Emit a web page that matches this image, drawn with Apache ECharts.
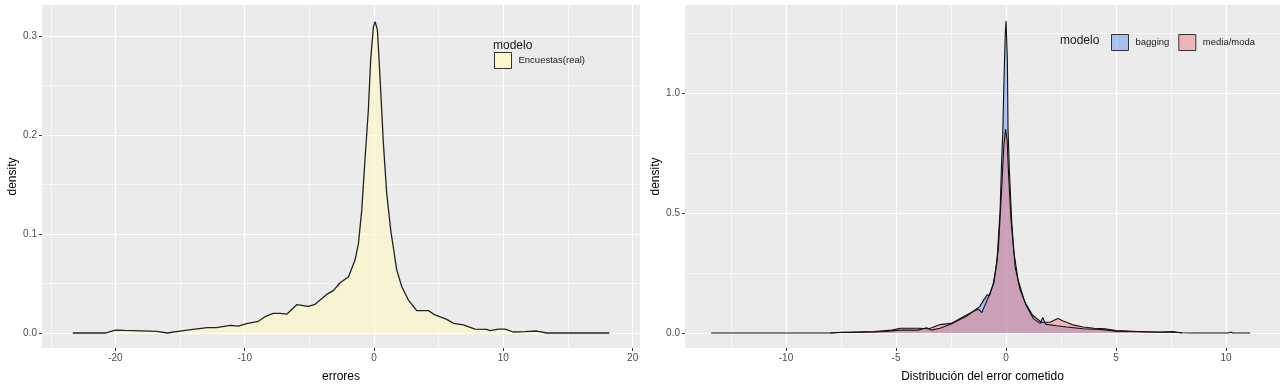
<!DOCTYPE html>
<html><head><meta charset="utf-8">
<script src="https://cdn.jsdelivr.net/npm/echarts@6/dist/echarts.min.js"></script>
<style>html,body{margin:0;padding:0;background:#fff}#c{width:1280px;height:388px}</style>
</head><body><div id="c"></div>
<script>
// ---- Left panel: Encuestas(real)
const encX = [-23.3,-20.8,-20.0,-19.3,-16.8,-16.0,-15.0,-14.0,-12.9,-12.2,-11.1,-10.5,-9.85,-8.95,-8.43,-7.8,-7.27,-6.75,-5.98,-5.6,-5.08,-4.56,-3.66,-3.15,-2.63,-1.98,-1.47,-1.21,-0.95,-0.70,-0.44,-0.26,-0.05,0.08,0.26,0.46,0.72,0.98,1.29,1.75,2.14,2.66,3.3,4.2,4.72,5.62,6.14,6.91,7.81,8.71,8.97,9.62,10.13,10.77,11.68,12.58,13.35,18.2];
const encY = [0,0,0.003,0.0027,0.0017,0,0.002,0.0037,0.0054,0.0054,0.0077,0.007,0.0094,0.0118,0.0165,0.0199,0.0199,0.019,0.0286,0.028,0.027,0.029,0.039,0.0428,0.0508,0.0566,0.0737,0.09,0.124,0.175,0.225,0.276,0.309,0.3145,0.306,0.259,0.192,0.141,0.104,0.064,0.047,0.0333,0.0226,0.0226,0.0182,0.0138,0.0098,0.0081,0.004,0.0037,0.0024,0.004,0.004,0.001,0.0013,0.002,0,0];
// ---- Right panel: bagging
const bagX = [-13.4,-8.0,-7.5,-7.0,-6.0,-5.5,-4.8,-4.0,-3.6,-3.4,-3.0,-2.55,-1.8,-1.2,-1.03,-0.85,-0.75,-0.58,-0.42,-0.27,-0.2,-0.15,-0.09,-0.03,0.0,0.06,0.09,0.15,0.26,0.41,0.64,0.94,1.24,1.55,1.67,1.79,2.3,2.76,3.5,4.27,5.0,5.6,6.5,7.5,8.0,8.5,10.1,10.2,10.3,11.1];
const bagY = [0,0,0.003,0.002,0.004,0.006,0.012,0.012,0.022,0.012,0.02,0.035,0.07,0.11,0.135,0.16,0.155,0.207,0.29,0.51,0.72,0.83,1.07,1.26,1.30,1.14,0.85,0.68,0.46,0.277,0.18,0.11,0.06,0.04,0.065,0.037,0.03,0.025,0.018,0.015,0.008,0.006,0.004,0.003,0.001,0,0,0.004,0,0];
// ---- Right panel: media/moda
const medX = [-8.0,-7.0,-6.0,-5.2,-4.8,-4.0,-3.5,-3.0,-2.5,-2.0,-1.5,-1.25,-1.1,-0.8,-0.55,-0.35,-0.2,-0.1,-0.02,0.05,0.12,0.22,0.35,0.55,0.85,1.2,1.6,2.0,2.35,2.6,3.0,3.5,4.0,4.5,5.0,6.0,7.0,7.6,8.0];
const medY = [0,0.004,0.006,0.012,0.02,0.02,0.018,0.035,0.04,0.065,0.09,0.1,0.085,0.15,0.21,0.35,0.6,0.78,0.85,0.8,0.65,0.48,0.34,0.22,0.13,0.075,0.045,0.045,0.06,0.05,0.035,0.025,0.02,0.018,0.01,0.006,0.004,0.006,0];
// ---- Ticks
const lxMajor = [-20,-10,0,10,20], lxMinor = [-25,-15,-5,5,15];
const lyMajor = [0,0.1,0.2,0.3], lyMinor = [0.05,0.15,0.25];
const rxMajor = [-10,-5,0,5,10], rxMinor = [-12.5,-7.5,-2.5,2.5,7.5];
const ryMajor = [0,0.5,1.0], ryMinor = [0.25,0.75,1.25];

const zip = (a,b) => a.map((v,i)=>[v,b[i]]);
const FONT = 'Liberation Sans, Arial, sans-serif';
const tickColor = '#4D4D4D';

function minorAxis(grid, min, max, vals, pos){
  return {type:'value', gridIndex:grid, min, max, position:pos,
    axisLine:{show:false, onZero:false}, axisLabel:{show:false},
    axisTick:{show:false, customValues:vals},
    splitLine:{show:true, lineStyle:{color:'#FFFFFF', width:0.6}}};
}
function majorAxis(grid, min, max, vals, fmt, name, gap, pos){
  return {type:'value', gridIndex:grid, min, max, position:pos,
    name, nameLocation:'middle', nameGap:gap,
    nameTextStyle:{fontFamily:FONT, fontSize:12, color:'#000'},
    axisLine:{show:false, onZero:false},
    axisTick:{show:true, length:3, customValues:vals, lineStyle:{color:'#333', width:1}},
    axisLabel:{show:true, customValues:vals, formatter:fmt, fontFamily:FONT, fontSize:10, color:tickColor, margin:5},
    splitLine:{show:true, lineStyle:{color:'#FFFFFF', width:1.2}}};
}

const chart = echarts.init(document.getElementById('c'), null, {renderer:'canvas'});
chart.setOption({
  animation:false,
  backgroundColor:'#FFFFFF',
  textStyle:{fontFamily:FONT},
  title:[
    {text:'modelo', left:493, top:40, padding:0, textStyle:{fontFamily:FONT, fontSize:12, fontWeight:'normal', color:'#1A1A1A'}},
    {text:'modelo', left:1060, top:35, padding:0, textStyle:{fontFamily:FONT, fontSize:12, fontWeight:'normal', color:'#1A1A1A'}}
  ],
  legend:[
    {data:[{name:'Encuestas(real)', itemStyle:{color:'rgba(253,248,196,0.9)', borderColor:'#333', borderWidth:1}}],
     left:494, top:52, padding:0, orient:'vertical', icon:'rect', itemWidth:17, itemHeight:16, itemGap:4,
     textStyle:{fontFamily:FONT, fontSize:9.5, color:'#1A1A1A', padding:[0,0,0,2]}},
    {data:[{name:'bagging', itemStyle:{color:'rgba(100,149,237,0.5)', borderColor:'#333', borderWidth:1}},
           {name:'media/moda', itemStyle:{color:'rgba(240,128,128,0.5)', borderColor:'#333', borderWidth:1}}],
     left:1111, top:34, padding:0, orient:'horizontal', icon:'rect', itemWidth:17, itemHeight:16, itemGap:9,
     textStyle:{fontFamily:FONT, fontSize:9.5, color:'#1A1A1A', padding:[0,0,0,2]}}
  ],
  grid:[
    {left:42, top:5, width:598, height:343, show:true, backgroundColor:'#EBEBEB', borderWidth:0, outerBoundsMode:'none', containLabel:false},
    {left:685, top:5, width:595, height:343, show:true, backgroundColor:'#EBEBEB', borderWidth:0, outerBoundsMode:'none', containLabel:false}
  ],
  xAxis:[
    minorAxis(0, -25.68, 20.57, lxMinor, 'bottom'),
    majorAxis(0, -25.68, 20.57, lxMajor, v=>String(v), 'errores', 23, 'bottom'),
    minorAxis(1, -14.59, 12.45, rxMinor, 'bottom'),
    majorAxis(1, -14.59, 12.45, rxMajor, v=>String(v), 'Distribución del error cometido', 23, 'bottom')
  ],
  yAxis:[
    minorAxis(0, -0.01515, 0.3313, lyMinor, 'left'),
    majorAxis(0, -0.01515, 0.3313, lyMajor, v=>v.toFixed(1), 'density', 23, 'left'),
    minorAxis(1, -0.0625, 1.367, ryMinor, 'left'),
    majorAxis(1, -0.0625, 1.367, ryMajor, v=>v.toFixed(1), 'density', 23, 'left')
  ],
  series:[
    {name:'Encuestas(real)', type:'line', xAxisIndex:1, yAxisIndex:1, data:zip(encX,encY), symbol:'none',
     itemStyle:{color:'rgba(253,248,196,0.9)'}, lineStyle:{color:'#222', width:1.3}, areaStyle:{color:'rgba(253,248,196,0.9)', origin:0}},
    {name:'bagging', type:'line', xAxisIndex:3, yAxisIndex:3, data:zip(bagX,bagY), symbol:'none',
     itemStyle:{color:'rgba(100,149,237,0.5)'}, lineStyle:{color:'#111', width:1.1}, areaStyle:{color:'rgba(100,149,237,0.5)', opacity:1, origin:0}},
    {name:'media/moda', type:'line', xAxisIndex:3, yAxisIndex:3, data:zip(medX,medY), symbol:'none',
     itemStyle:{color:'rgba(240,128,128,0.5)'}, lineStyle:{color:'#111', width:1.1}, areaStyle:{color:'rgba(240,128,128,0.5)', opacity:1, origin:0}}
  ]
});
</script></body></html>
